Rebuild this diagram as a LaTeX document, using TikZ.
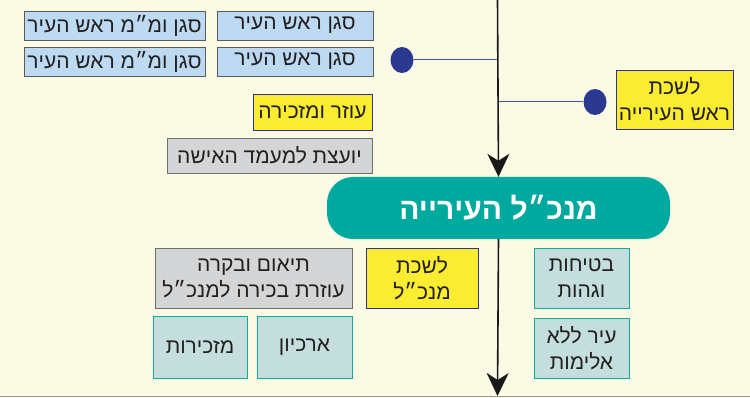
\documentclass[tikz,border=0pt]{standalone}
\usepackage{fontspec}
\newfontfamily\heb[Script=Hebrew]{Liberation Sans}
\TeXXeTstate=1
\usetikzlibrary{arrows.meta,shapes.geometric}
\newcommand{\rl}[1]{\beginR #1\endR}
\definecolor{bgc}{HTML}{FBFAE5}
\definecolor{lblue}{HTML}{BDDAF2}
\definecolor{dgray}{HTML}{5A5A5A}
\definecolor{ylw}{HTML}{F9EC31}
\definecolor{ylwb}{HTML}{2E3192}
\definecolor{gbox}{HTML}{D4D5D7}
\definecolor{gboxb}{HTML}{6D6E70}
\definecolor{tlight}{HTML}{C3DEDC}
\definecolor{tborder}{HTML}{13A89E}
\definecolor{tmain}{HTML}{00A99D}
\definecolor{navy}{HTML}{2B3990}
\definecolor{bline}{HTML}{3C55A5}
\definecolor{txt}{HTML}{231F20}
\tikzset{
  box/.style={draw, line width=0.9pt, inner sep=0pt, align=center, text=txt,
    font=\heb\fontsize{21}{26}\selectfont},
  bluebox/.style={box, fill=lblue, draw=dgray},
  ylwbox/.style={box, fill=ylw, draw=ylwb},
  graybox/.style={box, fill=gbox, draw=gboxb},
  tealbox/.style={box, fill=tlight, draw=tborder},
  dot/.style={ellipse, fill=navy, minimum width=23pt, minimum height=26pt, inner sep=0pt},
  conn/.style={draw=bline, line width=1pt},
  mainline/.style={draw=black!90, line width=1.6pt, -{Stealth[length=23pt,width=22pt,inset=7pt]}}
}
\begin{document}
\begin{tikzpicture}[x=1pt,y=-1pt]
\fill[bgc] (0,0) rectangle (750,398);
\useasboundingbox (0,0) rectangle (750,398);
\draw[gray!80, line width=1.5pt] (0,396.5) -- (750,396.5);

% top boxes
\node[bluebox, minimum width=156pt, minimum height=29pt] (d1) at (295,25.5) {\rl{סגן ראש העיר}};
\node[bluebox, minimum width=181pt, minimum height=29pt] (d2) at (114.5,25.5) {\rl{סגן ומ״מ ראש העיר}};
\node[bluebox, minimum width=156pt, minimum height=29pt] (d3) at (295,61.5) {\rl{סגן ראש העיר}};
\node[bluebox, minimum width=181pt, minimum height=29pt] (d4) at (114.5,61.5) {\rl{סגן ומ״מ ראש העיר}};

\node[ylwbox, minimum width=117pt, minimum height=59pt] (lr) at (674.5,99.5) {\rl{לשכת}\\\rl{ראש העירייה}};
\node[ylwbox, minimum width=119pt, minimum height=36pt] (oz) at (312.5,112) {\rl{עוזר ומזכירה}};
\node[graybox, minimum width=205pt, minimum height=35pt] (yo) at (269.5,155.5) {\rl{יועצת למעמד האישה}};

% main
\node[fill=tmain, rounded corners=26pt, minimum width=343pt, minimum height=62pt, inner sep=0pt,
  text=white, font=\heb\bfseries\fontsize{30}{34}\selectfont] (mn) at (498.5,208) {\rl{מנכ״ל העירייה}};

% lower boxes
\node[graybox, minimum width=197pt, minimum height=60pt] (te) at (253.5,278) {\rl{תיאום ובקרה}\\\rl{עוזרת בכירה למנכ״ל}};
\node[ylwbox, minimum width=112pt, minimum height=60pt] (lm) at (422,278) {\rl{לשכת}\\\rl{מנכ״ל}};
\node[tealbox, minimum width=94pt, minimum height=62pt] (mz) at (200,347) {\rl{מזכירות}};
\node[tealbox, minimum width=95pt, minimum height=62pt] (ar) at (304.5,347) {\rl{ארכיון}};
\node[tealbox, minimum width=95pt, minimum height=60pt] (bt) at (581.5,278) {\rl{בטיחות}\\\rl{וגהות}};
\node[tealbox, minimum width=95pt, minimum height=60pt] (ir) at (581.5,348) {\rl{עיר ללא}\\\rl{אלימות}};

% spine
\coordinate (top) at (497.5,0);
\coordinate (j1) at (497.5,60);
\coordinate (j2) at (497.5,102);
\coordinate (bot) at (497.5,396);
\node[dot] (c1) at (402,60) {};
\node[dot] (c2) at (595,102) {};
\draw[conn] (c1) -- (j1);
\draw[conn] (j2) -- (c2);
\draw[mainline] (top) -- (mn.north);
\draw[mainline] (mn.south) -- (bot);
\end{tikzpicture}
\end{document}
